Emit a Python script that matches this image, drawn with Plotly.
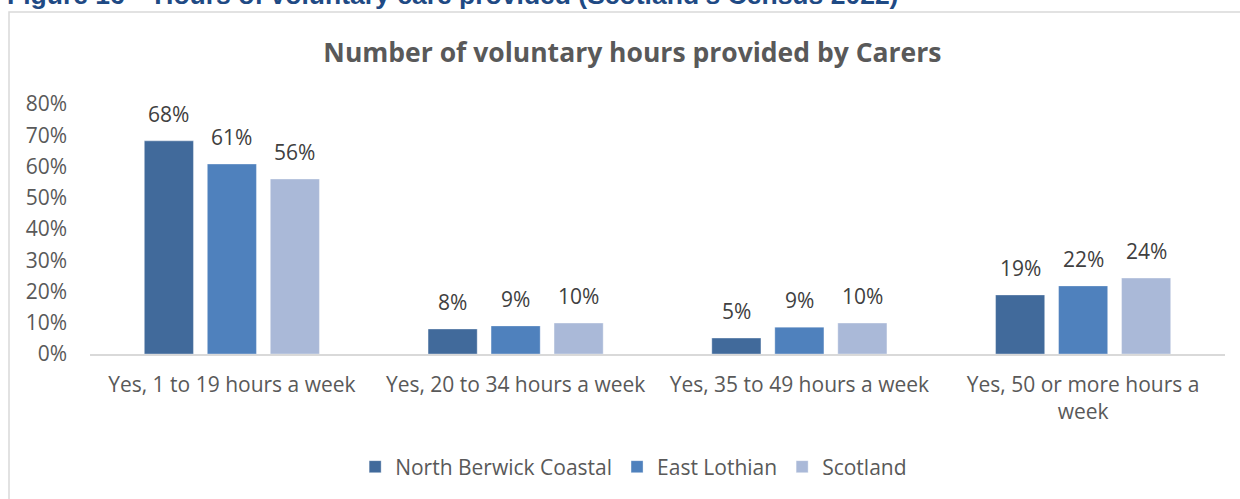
import plotly.graph_objects as go

categories = ["Yes, 1 to 19 hours a week", "Yes, 20 to 34 hours a week",
              "Yes, 35 to 49 hours a week", "Yes, 50 or more hours a<br>week"]
series_names = ["North Berwick Coastal", "East Lothian", "Scotland"]
north_berwick = [0.682, 0.080, 0.051, 0.189]
east_lothian = [0.608, 0.090, 0.086, 0.218]
scotland = [0.560, 0.099, 0.099, 0.243]
colors = ["#416A9B", "#4F81BD", "#AAB9D8"]
y_tickvals = [0, 0.1, 0.2, 0.3, 0.4, 0.5, 0.6, 0.7, 0.8]
y_ticktext = ["0%", "10%", "20%", "30%", "40%", "50%", "60%", "70%", "80%"]

FONT = "Open Sans"
FS = 21
W, H = 1240, 499
L, R, T, B = 90, 15, 104, 145
pw, ph = W - L - R, H - T - B
BARGAP, GROUPGAP = 0.334, 0.22
slot_px = pw / len(categories) * (1 - BARGAP) / len(series_names)

fig = go.Figure()
annotations = []
all_series = [north_berwick, east_lothian, scotland]
for i, (name, vals, c) in enumerate(zip(series_names, all_series, colors)):
    fig.add_trace(go.Bar(
        x=categories, y=vals, name=name,
        marker=dict(color=c, line=dict(color="rgba(255,255,255,0.35)", width=1)),
        hoverinfo="x+y+name",
    ))
    for cat, v in zip(categories, vals):
        annotations.append(dict(
            x=cat, y=v, xref="x", yref="y", text=f"{round(v * 100):.0f}%",
            showarrow=False, xanchor="center", yanchor="bottom",
            xshift=(i - 1) * slot_px, yshift=11,
            font=dict(family=FONT, size=FS, color="#404040")))


def px_x(x):
    return (x - L) / pw


def px_y(y):
    return (H - B - y) / ph


annotations.append(dict(
    text="<b>Figure 16 – Hours of voluntary care provided (Scotland’s Census 2022)</b>",
    xref="paper", yref="paper", x=px_x(5), y=px_y(12),
    xanchor="left", yanchor="bottom", showarrow=False,
    font=dict(family="Liberation Sans", size=26.5, color="#1F4A84")))

fig.update_layout(
    width=W, height=H,
    margin=dict(l=L, r=R, t=T, b=B, autoexpand=False),
    paper_bgcolor="white", plot_bgcolor="white",
    barmode="group", bargap=BARGAP, bargroupgap=GROUPGAP,
    title=dict(text="<b>Number of voluntary hours provided by Carers</b>",
               x=0.51, xref="container", xanchor="center",
               y=1 - 53 / H, yref="container", yanchor="middle",
               font=dict(family=FONT, size=26.5, color="#595959")),
    legend=dict(orientation="h", xref="container", yref="container",
                x=0.511, xanchor="center", y=1 - 467 / H, yanchor="middle",
                font=dict(family=FONT, size=FS, color="#595959"),
                traceorder="normal"),
    xaxis=dict(showgrid=False, showline=True, linecolor="#D9D9D9", linewidth=1.5,
               ticks="", ticklabelstandoff=11,
               tickfont=dict(family=FONT, size=FS, color="#595959")),
    yaxis=dict(range=[0, 0.8], showgrid=False, showline=False, zeroline=False,
               tickvals=y_tickvals, ticktext=y_ticktext, ticks="",
               ticklabelstandoff=22,
               tickfont=dict(family=FONT, size=FS, color="#595959")),
    shapes=[dict(type="rect", xref="paper", yref="paper",
                 x0=px_x(9), x1=px_x(1250), y0=px_y(510), y1=px_y(12),
                 line=dict(color="#D9D9D9", width=1.5), fillcolor="rgba(0,0,0,0)",
                 layer="below")],
    annotations=annotations,
)

fig.write_html("out.html", config={"displayModeBar": False},
               post_script="document.body.style.margin='0';")
